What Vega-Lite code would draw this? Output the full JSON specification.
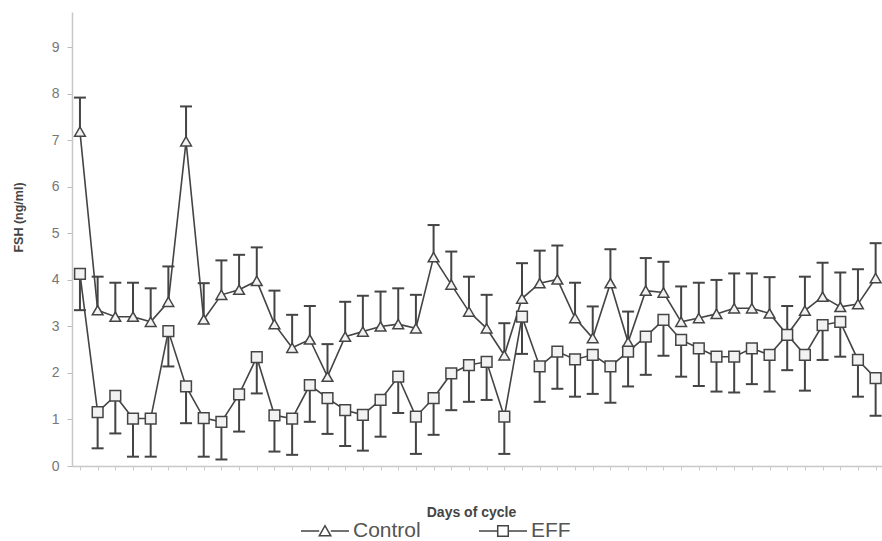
{
  "$schema": "https://vega.github.io/schema/vega-lite/v6.json",
  "width": 810,
  "height": 454,
  "autosize": "none",
  "padding": {"left": 72, "top": 12, "right": 0, "bottom": 75},
  "background": "white",
  "config": {
    "view": {"stroke": null},
    "font": "Liberation Sans",
    "axisY": {
      "grid": false,
      "domainColor": "#c8c8c8",
      "domainWidth": 1.5,
      "tickColor": "#bbbbbb",
      "tickSize": 5,
      "labelColor": "#777777",
      "labelFontSize": 14,
      "labelPadding": 8,
      "titleFontSize": 12.5,
      "titleFontWeight": "bold",
      "titleColor": "#444444",
      "titleX": -47,
      "titleY": 205,
      "titleAlign": "center"
    },
    "axisX": {
      "grid": false,
      "domainColor": "#c8c8c8",
      "domainWidth": 1.5,
      "tickColor": "#cccccc",
      "tickSize": 4,
      "labels": false,
      "titleFontSize": 14,
      "titleFontWeight": "bold",
      "titleColor": "#444444",
      "titleX": 399,
      "titleY": 39,
      "titleAlign": "center"
    }
  },
  "data": {
    "values": [
      {"day": 1, "series": "Control", "value": 7.19, "err": 7.92},
      {"day": 2, "series": "Control", "value": 3.35, "err": 4.07},
      {"day": 3, "series": "Control", "value": 3.21, "err": 3.94},
      {"day": 4, "series": "Control", "value": 3.21, "err": 3.94},
      {"day": 5, "series": "Control", "value": 3.10, "err": 3.82},
      {"day": 6, "series": "Control", "value": 3.53, "err": 4.29},
      {"day": 7, "series": "Control", "value": 6.98, "err": 7.73},
      {"day": 8, "series": "Control", "value": 3.15, "err": 3.93},
      {"day": 9, "series": "Control", "value": 3.68, "err": 4.42},
      {"day": 10, "series": "Control", "value": 3.79, "err": 4.54},
      {"day": 11, "series": "Control", "value": 3.98, "err": 4.70},
      {"day": 12, "series": "Control", "value": 3.05, "err": 3.77},
      {"day": 13, "series": "Control", "value": 2.54, "err": 3.25},
      {"day": 14, "series": "Control", "value": 2.72, "err": 3.44},
      {"day": 15, "series": "Control", "value": 1.92, "err": 2.62},
      {"day": 16, "series": "Control", "value": 2.78, "err": 3.53},
      {"day": 17, "series": "Control", "value": 2.89, "err": 3.66},
      {"day": 18, "series": "Control", "value": 3.00, "err": 3.75},
      {"day": 19, "series": "Control", "value": 3.05, "err": 3.82},
      {"day": 20, "series": "Control", "value": 2.96, "err": 3.68},
      {"day": 21, "series": "Control", "value": 4.49, "err": 5.18},
      {"day": 22, "series": "Control", "value": 3.90, "err": 4.61},
      {"day": 23, "series": "Control", "value": 3.32, "err": 4.07},
      {"day": 24, "series": "Control", "value": 2.96, "err": 3.68},
      {"day": 25, "series": "Control", "value": 2.38, "err": 3.07},
      {"day": 26, "series": "Control", "value": 3.60, "err": 4.36},
      {"day": 27, "series": "Control", "value": 3.93, "err": 4.63},
      {"day": 28, "series": "Control", "value": 4.01, "err": 4.74},
      {"day": 29, "series": "Control", "value": 3.18, "err": 3.94},
      {"day": 30, "series": "Control", "value": 2.75, "err": 3.43},
      {"day": 31, "series": "Control", "value": 3.93, "err": 4.66},
      {"day": 32, "series": "Control", "value": 2.66, "err": 3.32},
      {"day": 33, "series": "Control", "value": 3.77, "err": 4.47},
      {"day": 34, "series": "Control", "value": 3.73, "err": 4.39},
      {"day": 35, "series": "Control", "value": 3.10, "err": 3.86},
      {"day": 36, "series": "Control", "value": 3.18, "err": 3.94},
      {"day": 37, "series": "Control", "value": 3.27, "err": 4.00},
      {"day": 38, "series": "Control", "value": 3.39, "err": 4.14},
      {"day": 39, "series": "Control", "value": 3.39, "err": 4.14},
      {"day": 40, "series": "Control", "value": 3.28, "err": 4.06},
      {"day": 41, "series": "Control", "value": 2.82, "err": 3.44},
      {"day": 42, "series": "Control", "value": 3.34, "err": 4.07},
      {"day": 43, "series": "Control", "value": 3.64, "err": 4.37},
      {"day": 44, "series": "Control", "value": 3.42, "err": 4.16},
      {"day": 45, "series": "Control", "value": 3.48, "err": 4.23},
      {"day": 46, "series": "Control", "value": 4.04, "err": 4.79},
      {"day": 1, "series": "EFF", "value": 4.13, "err": 3.35},
      {"day": 2, "series": "EFF", "value": 1.16, "err": 0.38},
      {"day": 3, "series": "EFF", "value": 1.51, "err": 0.70},
      {"day": 4, "series": "EFF", "value": 1.02, "err": 0.20},
      {"day": 5, "series": "EFF", "value": 1.02, "err": 0.20},
      {"day": 6, "series": "EFF", "value": 2.90, "err": 2.14},
      {"day": 7, "series": "EFF", "value": 1.71, "err": 0.92},
      {"day": 8, "series": "EFF", "value": 1.03, "err": 0.20},
      {"day": 9, "series": "EFF", "value": 0.95, "err": 0.14},
      {"day": 10, "series": "EFF", "value": 1.54, "err": 0.74},
      {"day": 11, "series": "EFF", "value": 2.34, "err": 1.56},
      {"day": 12, "series": "EFF", "value": 1.09, "err": 0.31},
      {"day": 13, "series": "EFF", "value": 1.02, "err": 0.24},
      {"day": 14, "series": "EFF", "value": 1.74, "err": 0.95},
      {"day": 15, "series": "EFF", "value": 1.46, "err": 0.69},
      {"day": 16, "series": "EFF", "value": 1.20, "err": 0.43},
      {"day": 17, "series": "EFF", "value": 1.10, "err": 0.33},
      {"day": 18, "series": "EFF", "value": 1.42, "err": 0.63},
      {"day": 19, "series": "EFF", "value": 1.92, "err": 1.14},
      {"day": 20, "series": "EFF", "value": 1.06, "err": 0.26},
      {"day": 21, "series": "EFF", "value": 1.46, "err": 0.67},
      {"day": 22, "series": "EFF", "value": 1.99, "err": 1.20},
      {"day": 23, "series": "EFF", "value": 2.17, "err": 1.38},
      {"day": 24, "series": "EFF", "value": 2.24, "err": 1.42},
      {"day": 25, "series": "EFF", "value": 1.06, "err": 0.26},
      {"day": 26, "series": "EFF", "value": 3.21, "err": 2.41},
      {"day": 27, "series": "EFF", "value": 2.14, "err": 1.38},
      {"day": 28, "series": "EFF", "value": 2.46, "err": 1.66},
      {"day": 29, "series": "EFF", "value": 2.29, "err": 1.49},
      {"day": 30, "series": "EFF", "value": 2.39, "err": 1.55},
      {"day": 31, "series": "EFF", "value": 2.14, "err": 1.36},
      {"day": 32, "series": "EFF", "value": 2.46, "err": 1.71},
      {"day": 33, "series": "EFF", "value": 2.78, "err": 1.96},
      {"day": 34, "series": "EFF", "value": 3.14, "err": 2.37},
      {"day": 35, "series": "EFF", "value": 2.71, "err": 1.92},
      {"day": 36, "series": "EFF", "value": 2.53, "err": 1.72},
      {"day": 37, "series": "EFF", "value": 2.35, "err": 1.60},
      {"day": 38, "series": "EFF", "value": 2.35, "err": 1.58},
      {"day": 39, "series": "EFF", "value": 2.53, "err": 1.76},
      {"day": 40, "series": "EFF", "value": 2.39, "err": 1.60},
      {"day": 41, "series": "EFF", "value": 2.82, "err": 2.06},
      {"day": 42, "series": "EFF", "value": 2.39, "err": 1.62},
      {"day": 43, "series": "EFF", "value": 3.03, "err": 2.28},
      {"day": 44, "series": "EFF", "value": 3.10, "err": 2.35},
      {"day": 45, "series": "EFF", "value": 2.28, "err": 1.49},
      {"day": 46, "series": "EFF", "value": 1.89, "err": 1.08}
    ]
  },
  "encoding": {
    "x": {
      "field": "day",
      "type": "quantitative",
      "title": "Days of cycle",
      "scale": {"domain": [0.55, 46.36], "nice": false, "zero": false},
      "axis": {"values": [1,2,3,4,5,6,7,8,9,10,11,12,13,14,15,16,17,18,19,20,21,22,23,24,25,26,27,28,29,30,31,32,33,34,35,36,37,38,39,40,41,42,43,44,45,46]}
    }
  },
  "layer": [
    {
      "mark": {"type": "rule", "color": "#444444", "strokeWidth": 2},
      "encoding": {
        "y": {"field": "value", "type": "quantitative", "title": "FSH (ng/ml)", "scale": {"domain": [0, 9.76], "nice": false}, "axis": {"values": [0,1,2,3,4,5,6,7,8,9]}},
        "y2": {"field": "err"}
      }
    },
    {
      "mark": {"type": "tick", "orient": "horizontal", "color": "#444444", "size": 12, "thickness": 2, "opacity": 1},
      "encoding": {
        "y": {"field": "err", "type": "quantitative", "title": "FSH (ng/ml)", "axis": {"values": [0,1,2,3,4,5,6,7,8,9]}}
      }
    },
    {
      "mark": {"type": "line", "color": "#444444", "strokeWidth": 1.6},
      "encoding": {
        "y": {"field": "value", "type": "quantitative", "title": "FSH (ng/ml)", "axis": {"values": [0,1,2,3,4,5,6,7,8,9]}},
        "detail": {"field": "series"}
      }
    },
    {
      "mark": {"type": "point", "filled": true, "fill": "#f2f2f2", "stroke": "#444444", "strokeWidth": 1.5, "opacity": 1},
      "encoding": {
        "y": {"field": "value", "type": "quantitative", "title": "FSH (ng/ml)", "axis": {"values": [0,1,2,3,4,5,6,7,8,9]}},
        "shape": {"field": "series", "type": "nominal", "scale": {"domain": ["Control", "EFF"], "range": ["triangle-up", "square"]}, "legend": null},
        "size": {"value": 115}
      }
    },
    {
      "transform": [{"filter": "datum.day < 0"}],
      "mark": {"type": "point", "filled": false, "color": "#444444", "strokeWidth": 1.5, "opacity": 1},
      "encoding": {
        "y": {"field": "value", "type": "quantitative", "title": "FSH (ng/ml)", "axis": {"values": [0,1,2,3,4,5,6,7,8,9]}},
        "shape": {
          "field": "series",
          "type": "nominal",
          "scale": {"domain": ["Control", "EFF"], "range": ["M-1,0L-0.24,0M0.24,0L1,0M-0.24,0.2L0,-0.22L0.24,0.2Z", "M-1,0L-0.22,0M0.22,0L1,0M-0.22,-0.22L0.22,-0.22L0.22,0.22L-0.22,0.22Z"]},
          "legend": {
            "orient": "none",
            "direction": "horizontal",
            "legendX": 228,
            "legendY": 494,
            "title": null,
            "symbolSize": 2304,
            "symbolStrokeWidth": 1.5,
            "symbolStrokeColor": "#444444",
            "symbolFillColor": "#f4f4f4",
            "symbolOpacity": 1,
            "labelFontSize": 21,
            "labelColor": "#555555",
            "labelFont": "Liberation Sans",
            "labelOffset": 3,
            "columnPadding": 55,
            "padding": 0
          }
        }
      }
    }
  ],
  "resolve": {"scale": {"shape": "independent"}, "legend": {"shape": "independent"}}
}
